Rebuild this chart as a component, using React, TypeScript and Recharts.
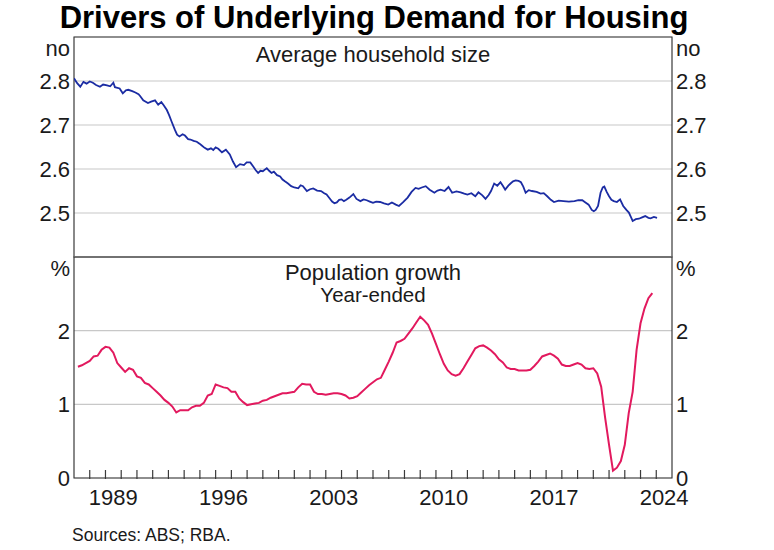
import React from 'react'
import { CartesianGrid, Line, LineChart, ReferenceArea, XAxis, YAxis } from 'recharts'

const FONT = 'Arial, "Liberation Sans", Helvetica, sans-serif'
const INK = '#1a1a1a'
const FRAME = '#3a3a3a'
const GRID = '#c8c8c8'

// average household size (year, persons)
const householdSize: [number, number][] = [
    [1987.0, 2.806], [1987.2, 2.795], [1987.4, 2.787], [1987.6, 2.798], [1987.8, 2.794],
    [1988.0, 2.799], [1988.2, 2.796], [1988.4, 2.791], [1988.65, 2.787], [1988.85, 2.792],
    [1989.1, 2.79], [1989.3, 2.788], [1989.5, 2.796], [1989.6, 2.786], [1989.9, 2.783],
    [1990.1, 2.772], [1990.3, 2.779], [1990.45, 2.78], [1990.7, 2.777], [1990.9, 2.774],
    [1991.1, 2.77], [1991.2, 2.766], [1991.4, 2.756], [1991.7, 2.75], [1991.9, 2.753],
    [1992.15, 2.756], [1992.35, 2.746], [1992.55, 2.752], [1992.7, 2.745], [1992.9, 2.734],
    [1993.05, 2.722], [1993.2, 2.708], [1993.4, 2.69], [1993.55, 2.678], [1993.7, 2.674],
    [1993.9, 2.679], [1994.05, 2.676], [1994.25, 2.668], [1994.4, 2.667], [1994.6, 2.664],
    [1994.8, 2.662], [1995.0, 2.657], [1995.1, 2.654], [1995.3, 2.648], [1995.5, 2.644],
    [1995.7, 2.647], [1995.85, 2.643], [1996.0, 2.649], [1996.17, 2.646], [1996.4, 2.638],
    [1996.65, 2.644], [1996.9, 2.633], [1997.1, 2.617], [1997.3, 2.604], [1997.55, 2.611],
    [1997.8, 2.609], [1997.97, 2.615], [1998.2, 2.615], [1998.4, 2.605], [1998.55, 2.597],
    [1998.7, 2.591], [1998.85, 2.596], [1999.0, 2.595], [1999.25, 2.602], [1999.4, 2.596],
    [1999.55, 2.591], [1999.7, 2.594], [1999.9, 2.586], [2000.1, 2.583], [2000.25, 2.576],
    [2000.4, 2.572], [2000.6, 2.567], [2000.8, 2.561], [2001.0, 2.558], [2001.25, 2.556],
    [2001.4, 2.563], [2001.55, 2.561], [2001.8, 2.55], [2002.0, 2.554], [2002.2, 2.556],
    [2002.45, 2.551], [2002.7, 2.55], [2002.9, 2.545], [2003.05, 2.542], [2003.25, 2.533],
    [2003.4, 2.526], [2003.55, 2.522], [2003.7, 2.524], [2003.85, 2.53], [2004.0, 2.531],
    [2004.15, 2.527], [2004.3, 2.53], [2004.5, 2.535], [2004.75, 2.543], [2004.95, 2.532],
    [2005.2, 2.527], [2005.4, 2.531], [2005.6, 2.529], [2005.8, 2.526], [2006.0, 2.523],
    [2006.2, 2.526], [2006.45, 2.525], [2006.7, 2.522], [2006.97, 2.519], [2007.2, 2.524],
    [2007.45, 2.519], [2007.65, 2.516], [2007.9, 2.524], [2008.2, 2.535], [2008.45, 2.548],
    [2008.7, 2.557], [2008.9, 2.555], [2009.1, 2.558], [2009.35, 2.561], [2009.6, 2.553],
    [2009.9, 2.546], [2010.1, 2.551], [2010.3, 2.553], [2010.55, 2.55], [2010.8, 2.559],
    [2011.03, 2.546], [2011.3, 2.549], [2011.57, 2.547], [2011.8, 2.544], [2012.0, 2.542],
    [2012.25, 2.545], [2012.5, 2.538], [2012.7, 2.547], [2012.95, 2.54], [2013.15, 2.532],
    [2013.35, 2.541], [2013.5, 2.55], [2013.7, 2.567], [2013.9, 2.562], [2014.1, 2.57],
    [2014.25, 2.562], [2014.4, 2.553], [2014.6, 2.562], [2014.74, 2.567], [2014.9, 2.572],
    [2015.06, 2.574], [2015.25, 2.573], [2015.4, 2.57], [2015.55, 2.56], [2015.7, 2.546],
    [2015.9, 2.552], [2016.1, 2.55], [2016.4, 2.548], [2016.65, 2.544], [2016.85, 2.545],
    [2017.07, 2.538], [2017.3, 2.53], [2017.5, 2.525], [2017.8, 2.528], [2018.1, 2.527],
    [2018.45, 2.526], [2018.8, 2.527], [2019.05, 2.529], [2019.3, 2.529], [2019.5, 2.524],
    [2019.7, 2.519], [2019.9, 2.507], [2020.03, 2.504], [2020.15, 2.507], [2020.3, 2.516],
    [2020.46, 2.546], [2020.6, 2.558], [2020.7, 2.56], [2020.85, 2.548], [2021.0, 2.538],
    [2021.15, 2.53], [2021.3, 2.527], [2021.5, 2.525], [2021.7, 2.531], [2021.9, 2.516],
    [2022.1, 2.507], [2022.26, 2.501], [2022.4, 2.49], [2022.5, 2.482], [2022.7, 2.486],
    [2022.9, 2.487], [2023.1, 2.49], [2023.3, 2.493], [2023.5, 2.489], [2023.64, 2.488],
    [2023.85, 2.491], [2024.05, 2.489]
]

// population growth, year-ended %, quarterly
const populationGrowth: [number, number][] = [
    [1987.25, 1.51], [1987.5, 1.53], [1987.75, 1.56],
    [1988.0, 1.59], [1988.25, 1.65], [1988.5, 1.66], [1988.75, 1.74],
    [1989.0, 1.78], [1989.25, 1.77], [1989.5, 1.7], [1989.75, 1.56],
    [1990.0, 1.5], [1990.25, 1.44], [1990.5, 1.49], [1990.75, 1.47],
    [1991.0, 1.38], [1991.25, 1.36], [1991.5, 1.29], [1991.75, 1.27],
    [1992.0, 1.22], [1992.25, 1.17], [1992.5, 1.12], [1992.75, 1.06],
    [1993.0, 1.02], [1993.25, 0.97], [1993.5, 0.89], [1993.75, 0.92],
    [1994.0, 0.92], [1994.25, 0.92], [1994.5, 0.96], [1994.75, 0.98],
    [1995.0, 0.98], [1995.25, 1.02], [1995.5, 1.12], [1995.75, 1.14],
    [1996.0, 1.27], [1996.25, 1.25], [1996.5, 1.23], [1996.75, 1.22],
    [1997.0, 1.17], [1997.25, 1.17], [1997.5, 1.08], [1997.75, 1.03],
    [1998.0, 0.99], [1998.25, 1.0], [1998.5, 1.01], [1998.75, 1.02],
    [1999.0, 1.05], [1999.25, 1.06], [1999.5, 1.09], [1999.75, 1.11],
    [2000.0, 1.13], [2000.25, 1.15], [2000.5, 1.15], [2000.75, 1.16],
    [2001.0, 1.17], [2001.25, 1.23], [2001.5, 1.28], [2001.75, 1.27],
    [2002.0, 1.27], [2002.25, 1.17], [2002.5, 1.14], [2002.75, 1.14],
    [2003.0, 1.13], [2003.25, 1.14], [2003.5, 1.15], [2003.75, 1.15],
    [2004.0, 1.14], [2004.25, 1.12], [2004.5, 1.08], [2004.75, 1.09],
    [2005.0, 1.11], [2005.25, 1.16], [2005.5, 1.21], [2005.75, 1.26],
    [2006.0, 1.3], [2006.25, 1.34], [2006.5, 1.36], [2006.75, 1.47],
    [2007.0, 1.58], [2007.25, 1.7], [2007.5, 1.84], [2007.75, 1.86],
    [2008.0, 1.89], [2008.25, 1.96], [2008.5, 2.03], [2008.75, 2.11],
    [2009.0, 2.19], [2009.25, 2.14], [2009.5, 2.08], [2009.75, 1.96],
    [2010.0, 1.82], [2010.25, 1.68], [2010.5, 1.55], [2010.75, 1.46],
    [2011.0, 1.41], [2011.25, 1.39], [2011.5, 1.41], [2011.75, 1.49],
    [2012.0, 1.58], [2012.25, 1.67], [2012.5, 1.76], [2012.75, 1.79],
    [2013.0, 1.8], [2013.25, 1.77], [2013.5, 1.73], [2013.75, 1.68],
    [2014.0, 1.61], [2014.25, 1.57], [2014.5, 1.5], [2014.75, 1.48],
    [2015.0, 1.48], [2015.25, 1.46], [2015.5, 1.46], [2015.75, 1.46],
    [2016.0, 1.47], [2016.25, 1.52], [2016.5, 1.58], [2016.75, 1.65],
    [2017.0, 1.67], [2017.25, 1.69], [2017.5, 1.66], [2017.75, 1.62],
    [2018.0, 1.54], [2018.25, 1.52], [2018.5, 1.52], [2018.75, 1.54],
    [2019.0, 1.56], [2019.25, 1.54], [2019.5, 1.49], [2019.75, 1.48],
    [2020.0, 1.49], [2020.25, 1.42], [2020.5, 1.24], [2020.75, 0.82],
    [2021.0, 0.45], [2021.25, 0.1], [2021.5, 0.14], [2021.75, 0.23],
    [2022.0, 0.45], [2022.25, 0.88], [2022.5, 1.17], [2022.75, 1.74],
    [2023.0, 2.1], [2023.25, 2.3], [2023.5, 2.44], [2023.75, 2.51]
]

const yearDomain = [1987, 2025]
const yearMarks = [
    1988, 1989, 1990, 1991, 1992, 1993, 1994, 1995, 1996, 1997, 1998, 1999,
    2000, 2001, 2002, 2003, 2004, 2005, 2006, 2007, 2008, 2009, 2010, 2011,
    2012, 2013, 2014, 2015, 2016, 2017, 2018, 2019, 2020, 2021, 2022, 2023, 2024
]
const yearLabels = [1989, 1996, 2003, 2010, 2017, 2024]
const householdTicks = [2.4, 2.5, 2.6, 2.7, 2.8, 2.9]
const growthTicks = [0, 1, 2, 3]

const householdData = householdSize.map(([year, value]) => ({ year, value }))
const growthData = populationGrowth.map(([year, value]) => ({ year, value }))
// labels sit in the middle of each calendar year
const yearLabelTicks = yearLabels.map((y) => y + 0.5)

const makeYTick =
    (ticks: number[], unit: string, hideBottom: boolean, decimals: number) =>
    (props: any) => {
        const { x, y, payload, textAnchor } = props
        const v = payload.value
        if (hideBottom && v === ticks[0]) return null
        const isUnit = v === ticks[ticks.length - 1]
        return (
            <text
                x={x}
                y={y}
                dy={isUnit ? 19 : 8}
                textAnchor={textAnchor}
                fontFamily={FONT}
                fontSize={22}
                fill={INK}
            >
                {isUnit ? unit : v.toFixed(decimals)}
            </text>
        )
    }

const householdTick = makeYTick(householdTicks, 'no', true, 1)
const growthTick = makeYTick(growthTicks, '%', false, 0)

const YearMark = (props: any) => {
    const { x, y } = props
    return (
        <line
            x1={x}
            x2={x}
            y1={y}
            y2={y - 9}
            stroke={FRAME}
            strokeWidth={1.2}
        />
    )
}

const YearLabel = (props: any) => {
    const { x, y, payload } = props
    return (
        <text
            x={x}
            y={y}
            dy={27}
            textAnchor={'middle'}
            fontFamily={FONT}
            fontSize={22}
            fill={INK}
        >
            {Math.floor(payload.value)}
        </text>
    )
}

const App: React.FC = () => (
    <div
        style={{
            position: 'absolute',
            left: 0,
            top: 0,
            width: 774,
            height: 550,
            background: '#ffffff',
            fontFamily: FONT
        }}
    >
        <div style={{ position: 'absolute', left: 0, top: 0 }}>
            <LineChart
                width={774}
                height={258}
                data={householdData}
                margin={{ top: 37, right: 0, bottom: 1, left: 0 }}
            >
                <CartesianGrid
                    yAxisId={'left'}
                    xAxisId={'bottom'}
                    vertical={false}
                    stroke={GRID}
                    strokeWidth={1.2}
                />
                <XAxis
                    xAxisId={'bottom'}
                    dataKey={'year'}
                    type={'number'}
                    domain={yearDomain}
                    allowDataOverflow={true}
                    hide={true}
                />
                <YAxis
                    yAxisId={'left'}
                    type={'number'}
                    domain={[2.4, 2.9]}
                    allowDataOverflow={true}
                    ticks={householdTicks}
                    interval={0}
                    width={74}
                    tickSize={0}
                    tickMargin={4}
                    tickLine={false}
                    tick={householdTick}
                    axisLine={false}
                />
                <YAxis
                    yAxisId={'right'}
                    orientation={'right'}
                    type={'number'}
                    domain={[2.4, 2.9]}
                    allowDataOverflow={true}
                    ticks={householdTicks}
                    interval={0}
                    width={102}
                    tickSize={0}
                    tickMargin={4}
                    tickLine={false}
                    tick={householdTick}
                    axisLine={false}
                />
                <ReferenceArea
                    xAxisId={'bottom'}
                    yAxisId={'left'}
                    x1={yearDomain[0]}
                    x2={yearDomain[1]}
                    y1={2.4}
                    y2={2.9}
                    fill={'none'}
                    stroke={FRAME}
                    strokeWidth={1.2}
                    ifOverflow={'visible'}
                />
                <Line
                    xAxisId={'bottom'}
                    yAxisId={'left'}
                    dataKey={'value'}
                    type={'linear'}
                    stroke={'#1b2ca3'}
                    strokeWidth={1.8}
                    dot={false}
                    isAnimationActive={false}
                />
            </LineChart>
        </div>
        <div style={{ position: 'absolute', left: 0, top: 227 }}>
            <LineChart
                width={774}
                height={323}
                data={growthData}
                margin={{ top: 30, right: 0, bottom: 70, left: 0 }}
            >
                <CartesianGrid
                    yAxisId={'left'}
                    xAxisId={'marks'}
                    vertical={false}
                    stroke={GRID}
                    strokeWidth={1.2}
                />
                <XAxis
                    xAxisId={'marks'}
                    dataKey={'year'}
                    type={'number'}
                    domain={yearDomain}
                    allowDataOverflow={true}
                    ticks={yearMarks}
                    interval={0}
                    height={1}
                    tickSize={0}
                    tickMargin={0}
                    tickLine={false}
                    tick={YearMark}
                    axisLine={false}
                />
                <XAxis
                    xAxisId={'labels'}
                    dataKey={'year'}
                    type={'number'}
                    domain={yearDomain}
                    allowDataOverflow={true}
                    ticks={yearLabelTicks}
                    interval={0}
                    height={1}
                    tickSize={0}
                    tickMargin={0}
                    tickLine={false}
                    tick={YearLabel}
                    axisLine={false}
                />
                <YAxis
                    yAxisId={'left'}
                    type={'number'}
                    domain={[0, 3]}
                    allowDataOverflow={true}
                    ticks={growthTicks}
                    interval={0}
                    width={74}
                    tickSize={0}
                    tickMargin={4}
                    tickLine={false}
                    tick={growthTick}
                    axisLine={false}
                />
                <YAxis
                    yAxisId={'right'}
                    orientation={'right'}
                    type={'number'}
                    domain={[0, 3]}
                    allowDataOverflow={true}
                    ticks={growthTicks}
                    interval={0}
                    width={102}
                    tickSize={0}
                    tickMargin={4}
                    tickLine={false}
                    tick={growthTick}
                    axisLine={false}
                />
                <ReferenceArea
                    xAxisId={'marks'}
                    yAxisId={'left'}
                    x1={yearDomain[0]}
                    x2={yearDomain[1]}
                    y1={0}
                    y2={3}
                    fill={'none'}
                    stroke={FRAME}
                    strokeWidth={1.2}
                    ifOverflow={'visible'}
                />
                <Line
                    xAxisId={'marks'}
                    yAxisId={'left'}
                    dataKey={'value'}
                    type={'linear'}
                    stroke={'#e2195e'}
                    strokeWidth={2}
                    dot={false}
                    isAnimationActive={false}
                />
            </LineChart>
        </div>
        <svg
            width={774}
            height={550}
            style={{ position: 'absolute', left: 0, top: 0, pointerEvents: 'none' }}
        >
            <text
                x={374}
                y={28}
                textAnchor={'middle'}
                fontFamily={FONT}
                fontSize={31}
                fontWeight={'bold'}
                fill={'#000'}
            >
                Drivers of Underlying Demand for Housing
            </text>
            <text
                x={373}
                y={62}
                textAnchor={'middle'}
                fontFamily={FONT}
                fontSize={22}
                fill={INK}
            >
                Average household size
            </text>
            <text
                x={373}
                y={280}
                textAnchor={'middle'}
                fontFamily={FONT}
                fontSize={22}
                fill={INK}
            >
                Population growth
            </text>
            <text
                x={373}
                y={302}
                textAnchor={'middle'}
                fontFamily={FONT}
                fontSize={20.5}
                fill={INK}
            >
                Year-ended
            </text>
            <text
                x={72}
                y={541}
                fontFamily={FONT}
                fontSize={17.5}
                fill={INK}
            >
                Sources: ABS; RBA.
            </text>
        </svg>
    </div>
)

export default App
